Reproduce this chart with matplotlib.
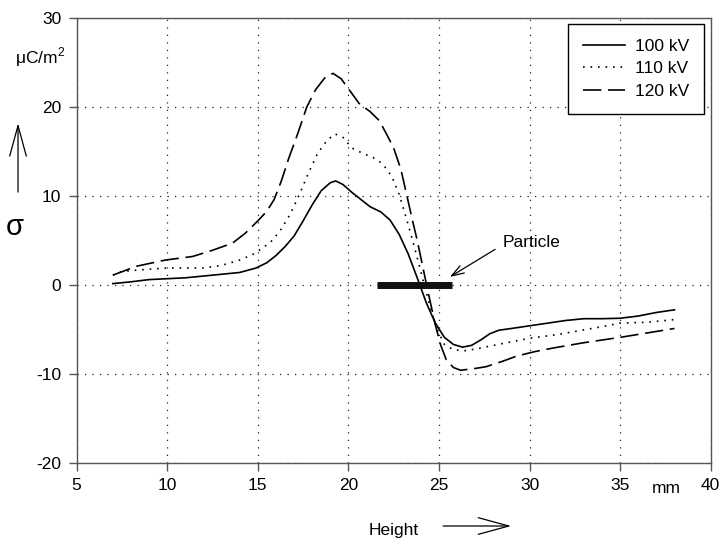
import numpy as np
import matplotlib
matplotlib.use('Agg')
import matplotlib.pyplot as plt

plt.rcParams['font.family'] = ['Liberation Sans', 'DejaVu Sans']
plt.rcParams['mathtext.fontset'] = 'custom'
plt.rcParams['mathtext.rm'] = 'Liberation Sans'
plt.rcParams['axes.unicode_minus'] = False

# surface charge density vs height
x100 = [7.0, 8.0, 9.0, 10.0, 11.0, 12.0, 13.0, 14.0, 14.9, 15.5, 16.0, 16.5, 17.0, 17.5, 18.0,
        18.5, 19.0, 19.3, 19.7, 20.2, 20.7, 21.2, 21.8, 22.3, 22.8, 23.3, 23.8, 24.3, 24.8,
        25.3, 25.8, 26.3, 26.8, 27.3, 27.8, 28.3, 29.0, 30.0, 31.0, 32.0, 33.0, 34.0, 35.0,
        36.0, 37.0, 38.0]
y100 = [0.15, 0.35, 0.6, 0.7, 0.8, 1.0, 1.2, 1.4, 1.9, 2.5, 3.3, 4.3, 5.5, 7.2, 9.0,
        10.6, 11.5, 11.7, 11.3, 10.4, 9.6, 8.8, 8.2, 7.3, 5.7, 3.5, 0.8, -2.0, -4.3,
        -5.9, -6.7, -7.0, -6.8, -6.2, -5.5, -5.1, -4.9, -4.6, -4.3, -4.0, -3.8, -3.8, -3.75,
        -3.5, -3.1, -2.8]

x110 = [7.0, 7.5, 8.5, 10.0, 11.0, 12.0, 13.0, 14.0, 14.7, 15.3, 15.8, 16.3, 16.8, 17.3, 17.8,
        18.3, 18.8, 19.25, 19.7, 20.2, 20.8, 21.4, 21.9, 22.4, 22.8, 23.2, 23.6, 24.0, 24.5,
        24.9, 25.3, 25.8, 26.5, 27.3, 28.5, 30.0, 31.5, 32.6, 34.0, 35.0, 36.5, 38.0]
y110 = [1.1, 1.5, 1.7, 1.9, 1.9, 1.9, 2.2, 2.8, 3.4, 4.2, 5.0, 6.3, 8.0, 10.2, 12.6,
        14.8, 16.2, 17.0, 16.6, 15.4, 14.8, 14.3, 13.6, 12.2, 10.2, 7.5, 4.6, 1.5, -2.4,
        -5.0, -6.7, -7.3, -7.4, -7.1, -6.6, -6.0, -5.6, -5.2, -4.7, -4.3, -4.2, -3.9]

x120 = [7.0, 8.3, 9.9, 11.4, 12.5, 13.6, 14.3, 15.0, 15.5, 15.9, 16.3, 16.7, 17.2, 17.7, 18.2,
        18.7, 19.15, 19.6, 20.1, 20.6, 21.2, 21.7, 22.1, 22.5, 22.9, 23.2, 23.5, 23.8, 24.1,
        24.4, 24.8, 25.1, 25.4, 25.8, 26.2, 27.0, 27.6, 28.5, 29.3, 30.3, 31.3, 33.0, 35.0,
        36.5, 38.0]
y120 = [1.1, 2.1, 2.8, 3.2, 3.9, 4.7, 5.8, 7.2, 8.3, 9.6, 11.7, 14.2, 17.0, 20.0, 22.0,
        23.3, 23.8, 23.2, 21.8, 20.4, 19.5, 18.5, 17.0, 15.4, 13.0, 10.3, 7.6, 5.0, 2.1,
        -0.8, -4.5, -6.8, -8.4, -9.3, -9.6, -9.4, -9.2, -8.6, -8.0, -7.5, -7.1, -6.5, -5.9,
        -5.4, -4.9]

particle_x = [21.6, 25.7]
xticks = [5, 10, 15, 20, 25, 30, 35, 40]
yticks = [-20, -10, 0, 10, 20, 30]

fig = plt.figure(figsize=(7.23, 5.38), dpi=100)
ax = fig.add_axes([0.106, 0.140, 0.877, 0.826])

ax.plot(x100, y100, color='black', lw=1.2, label='100 kV')
ax.plot(x110, y110, color='black', lw=1.2, linestyle=(0, (1, 3.5)), label='110 kV')
ax.plot(x120, y120, color='black', lw=1.2, linestyle=(0, (11, 4)), label='120 kV')

# particle bar
ax.plot(particle_x, [0, 0], color='#111111', lw=5, solid_capstyle='butt')
ax.annotate('', xy=(25.6, 0.9), xytext=(28.1, 4.0),
            arrowprops=dict(arrowstyle='->,head_length=0.9,head_width=0.3',
                            color='black', lw=0.9, shrinkA=0, shrinkB=0))
ax.text(28.5, 4.8, 'Particle', fontsize=12.5, ha='left', va='center')

ax.set_xlim(5, 40)
ax.set_ylim(-20, 30)
ax.set_xticks(xticks)
ax.set_yticks(yticks)

ax.grid(True, color='#222222', linestyle=(0, (1, 5)), lw=0.9)
for s in ax.spines.values():
    s.set_color('#555555')
    s.set_linewidth(1.0)
ax.tick_params(direction='out', length=6, width=1.0, color='#555555',
               labelsize=12.5, pad=5)

leg = ax.legend(loc='upper right', bbox_to_anchor=(0.9894, 0.987), borderaxespad=0,
                fontsize=12.5, frameon=True, fancybox=False, framealpha=1,
                edgecolor='black', handlelength=2.4, handletextpad=0.6,
                labelspacing=0.42, borderpad=0.85)
leg.get_frame().set_linewidth(1.0)

# axis labels drawn as in the original figure
fig.text(0.09, 0.883, r'μC/m$^\mathregular{2}$', fontsize=12.5, ha='right', va='baseline')
fig.text(0.021, 0.578, 'σ', fontsize=21, ha='center', va='center')
fig.text(0.921, 0.0836, 'mm', fontsize=12.5, ha='center', va='baseline')
fig.text(0.544, 0.0056, 'Height', fontsize=12.5, ha='center', va='baseline')

arrow = dict(arrowstyle='->,head_length=2.2,head_width=0.6', color='black', lw=0.9,
             shrinkA=0, shrinkB=0, mutation_scale=10)
ax.annotate('', xy=(0.707, 0.0223), xytext=(0.613, 0.0223), xycoords='figure fraction',
            textcoords='figure fraction', arrowprops=arrow, annotation_clip=False)
ax.annotate('', xy=(0.0249, 0.771), xytext=(0.0249, 0.643), xycoords='figure fraction',
            textcoords='figure fraction', arrowprops=arrow, annotation_clip=False)

fig.savefig('out.png', dpi=100)
